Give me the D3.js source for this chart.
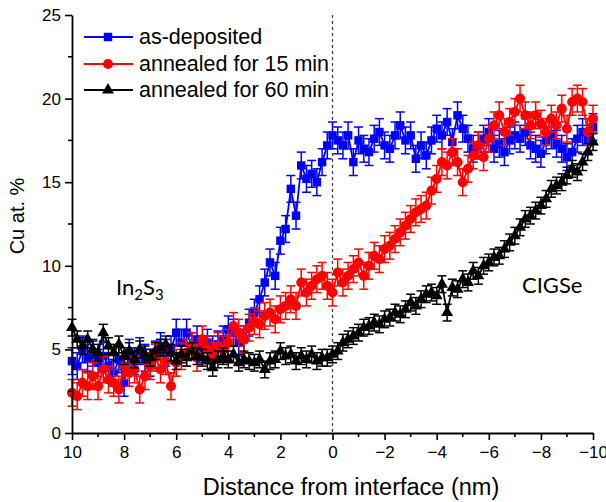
<!DOCTYPE html>
<html><head><meta charset="utf-8">
<script src="https://cdn.jsdelivr.net/npm/d3@7"></script>
<style>
body{margin:0;background:#fff;}
svg{display:block;font-family:"Liberation Sans",Arial,sans-serif;}
</style></head>
<body><svg id="c" width="606" height="502"></svg>
<script>
const distance = [10,9.8,9.6,9.4,9.2,9,8.8,8.6,8.4,8.2,8,7.8,7.6,7.4,7.2,7,6.8,6.6,6.4,6.2,6,5.8,5.6,5.4,5.2,5,4.8,4.6,4.4,4.2,4,3.8,3.6,3.4,3.2,3,2.8,2.6,2.4,2.2,2,1.8,1.6,1.4,1.2,1,0.8,0.6,0.4,0.2,0,-0.2,-0.4,-0.6,-0.8,-1,-1.2,-1.4,-1.6,-1.8,-2,-2.2,-2.4,-2.6,-2.8,-3,-3.2,-3.4,-3.6,-3.8,-4,-4.2,-4.4,-4.6,-4.8,-5,-5.2,-5.4,-5.6,-5.8,-6,-6.2,-6.4,-6.6,-6.8,-7,-7.2,-7.4,-7.6,-7.8,-8,-8.2,-8.4,-8.6,-8.8,-9,-9.2,-9.4,-9.6,-9.8,-10];
const asDeposited = [4.3,4.0,5.0,4.5,4.8,4.2,4.6,4.0,3.6,4.4,3.0,4.8,4.3,4.9,4.5,4.2,4.7,5.2,4.8,5.0,6.0,5.4,6.0,5.2,5.6,5.0,5.4,5.0,5.3,5.6,6.2,6.0,5.4,5.6,6.6,7.2,8.0,9.0,10.2,9.4,11.5,12.2,14.6,13.0,16.0,15.2,15.5,15.0,16.2,17.2,17.8,17.5,17.2,17.8,16.2,17.5,17.0,16.8,17.6,18.0,17.2,17.0,17.8,18.4,17.5,17.8,16.4,17.2,16.6,17.5,18.2,17.8,18.6,17.4,19.0,18.2,17.6,17.0,17.2,17.6,18.0,17.0,17.3,16.8,17.5,17.8,17.6,18.0,17.2,17.0,16.7,17.5,17.8,17.3,17.0,16.5,16.8,17.6,18.0,17.6,18.3];
const annealed15 = [2.4,2.2,3.0,2.8,3.4,2.8,3.8,3.2,3.0,2.6,4.0,3.6,3.8,2.6,3.4,4.0,4.5,3.8,4.3,2.8,4.2,4.6,4.8,5.2,4.5,5.6,5.0,4.6,5.2,5.0,5.4,6.4,6.0,5.6,6.3,6.7,6.5,7.0,7.2,6.8,7.4,7.6,8.0,7.6,9.0,8.4,8.8,9.2,9.4,8.8,8.4,9.6,9.0,9.4,9.8,10.2,9.4,10.0,10.6,10.4,11.0,11.2,11.6,12.0,12.4,12.8,13.2,13.4,13.6,14.5,15.2,16.2,16.0,16.8,16.2,15.0,15.8,16.6,17.2,16.5,17.6,18.4,19.0,18.0,18.6,19.2,20.0,19.0,18.4,19.0,18.5,18.0,18.8,18.4,19.4,18.2,19.8,20.0,19.8,18.0,18.8];
const annealed60 = [6.3,5.6,5.2,5.6,5.0,4.8,6.0,5.2,4.8,5.3,4.6,4.9,4.4,5.0,4.7,4.5,4.9,5.1,5.3,4.8,4.3,4.7,4.5,4.9,4.6,4.5,4.3,3.9,4.4,4.6,4.4,4.7,4.2,4.4,4.3,4.2,4.4,3.8,4.3,4.4,4.9,4.6,4.7,4.3,4.6,4.4,4.7,4.3,4.5,4.5,4.7,4.9,5.4,5.6,5.8,6.0,6.3,6.4,6.6,6.5,6.8,6.9,7.2,7.1,7.4,7.8,7.6,8.0,8.3,8.4,8.2,8.9,7.2,8.7,8.6,9.2,9.0,9.7,9.4,10.0,10.2,10.5,10.6,11.0,11.4,11.8,12.3,12.8,13.0,13.3,13.6,14.0,14.6,14.8,15.0,15.4,15.8,15.6,16.2,16.8,17.4];
const errAs = 0.8, err15 = 0.8, err60 = 0.5;
const seriesNames = ["as-deposited","annealed for 15 min","annealed for 60 min"];
const seriesColors = ["#0000ff","#ff0000","#000000"];
const xTicks = [10,8,6,4,2,0,-2,-4,-6,-8,-10];
const yTicks = [0,5,10,15,20,25];

const svg = d3.select("#c");
const L=72, R=593, T=15, B=433;
const x = d3.scaleLinear().domain([10,-10]).range([L,R]);
const y = d3.scaleLinear().domain([0,25]).range([B,T]);

// dashed interface line
svg.append("line").attr("x1",x(0)).attr("x2",x(0)).attr("y1",T).attr("y2",B)
  .attr("stroke","#444").attr("stroke-width",1.3).attr("stroke-dasharray","3,3");

const series = [
  {name:seriesNames[0], color:seriesColors[0], vals:asDeposited, err:errAs, sym:d3.symbolSquare, size:72},
  {name:seriesNames[1], color:seriesColors[1], vals:annealed15, err:err15, sym:d3.symbolCircle, size:80},
  {name:seriesNames[2], color:seriesColors[2], vals:annealed60, err:err60, sym:d3.symbolTriangle, size:62}
];

series.forEach(s=>{
  const g = svg.append("g");
  const data = distance.map((d,i)=>({d, v:s.vals[i]}));
  const eb = g.append("g").attr("stroke",s.color).attr("stroke-width",1.5).attr("fill","none");
  data.forEach(p=>{
    const cx = x(p.d), yt = y(p.v+s.err), yb = y(p.v-s.err);
    eb.append("line").attr("x1",cx).attr("x2",cx).attr("y1",yt).attr("y2",yb);
    eb.append("line").attr("x1",cx-4.5).attr("x2",cx+4.5).attr("y1",yt).attr("y2",yt);
    eb.append("line").attr("x1",cx-4.5).attr("x2",cx+4.5).attr("y1",yb).attr("y2",yb);
  });
  g.append("path").datum(data)
    .attr("d", d3.line().x(p=>x(p.d)).y(p=>y(p.v)))
    .attr("fill","none").attr("stroke",s.color).attr("stroke-width",1.8);
  g.selectAll("path.m").data(data).enter().append("path").attr("class","m")
    .attr("transform",p=>`translate(${x(p.d)},${y(p.v)})`)
    .attr("d", d3.symbol().type(s.sym).size(s.size)).attr("fill",s.color);
});

// axes
const xAxis = d3.axisBottom(x).tickValues(xTicks).tickSize(7).tickSizeOuter(0).tickPadding(6).tickFormat(d3.format("d"));
const gx = svg.append("g").attr("transform",`translate(0,${B})`).call(xAxis);
const yAxis = d3.axisLeft(y).tickValues(yTicks).tickSize(7).tickSizeOuter(0).tickPadding(4);
const gy = svg.append("g").attr("transform",`translate(${L},0)`).call(yAxis);
[gx,gy].forEach(g=>{
  g.selectAll("text").attr("font-size",17).attr("font-family","Liberation Sans, Arial, sans-serif").attr("fill","#000");
  g.select(".domain").attr("stroke-width",1.8);
  g.selectAll(".tick line").attr("stroke-width",1.6);
});
// minor ticks
const xMinor = [9,7,5,3,1,-1,-3,-5,-7,-9];
svg.append("g").selectAll("line").data(xMinor).enter().append("line")
  .attr("x1",d=>x(d)).attr("x2",d=>x(d)).attr("y1",B).attr("y2",B+4).attr("stroke","#000").attr("stroke-width",1.6);
const yMinor = [2.5,7.5,12.5,17.5,22.5];
svg.append("g").selectAll("line").data(yMinor).enter().append("line")
  .attr("x1",L-4).attr("x2",L).attr("y1",d=>y(d)).attr("y2",d=>y(d)).attr("stroke","#000").attr("stroke-width",1.6);

// axis titles
svg.append("text").attr("x",351).attr("y",495).attr("text-anchor","middle")
  .attr("font-size",23.5).text("Distance from interface (nm)");
svg.append("text").attr("transform","translate(24,216) rotate(-90)").attr("text-anchor","middle")
  .attr("font-size",20).text("Cu at. %");

// region labels
const lbl = svg.append("text").attr("x",116).attr("y",295).attr("font-family","Lato, 'Open Sans', sans-serif").attr("font-size",22);
lbl.append("tspan").text("In");
lbl.append("tspan").attr("font-size",15).attr("dy",5).text("2");
lbl.append("tspan").attr("dy",-5).text("S");
lbl.append("tspan").attr("font-size",15).attr("dy",5).text("3");
svg.append("text").attr("x",522).attr("y",293).attr("font-family","Lato, 'Open Sans', sans-serif").attr("font-size",22).text("CIGSe");

// legend
const legY = [37,64,90];
series.forEach((s,i)=>{
  const g = svg.append("g");
  g.append("line").attr("x1",84).attr("x2",133).attr("y1",legY[i]).attr("y2",legY[i]).attr("stroke",s.color).attr("stroke-width",2);
  g.append("path").attr("transform",`translate(108,${legY[i]})`).attr("d",d3.symbol().type(s.sym).size(s.size)).attr("fill",s.color);
  g.append("text").attr("x",139).attr("y",legY[i]+7).attr("font-size",21.5).text(s.name);
});
</script></body></html>
